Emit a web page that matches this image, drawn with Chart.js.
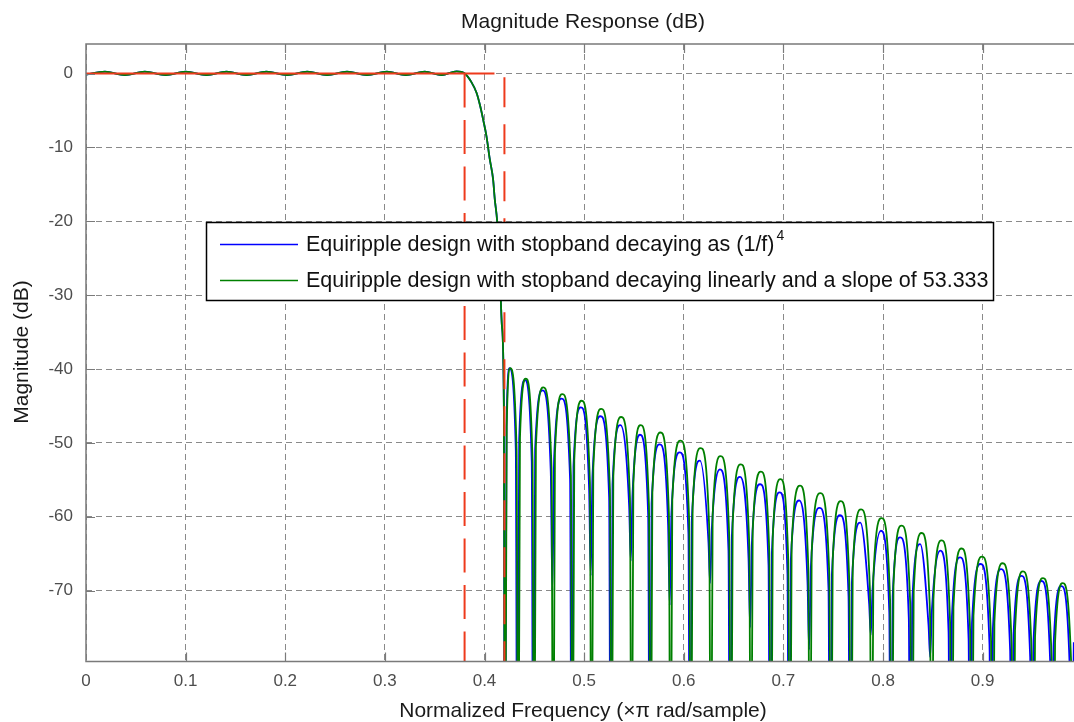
<!DOCTYPE html>
<html><head><meta charset="utf-8">
<script src="https://cdn.jsdelivr.net/npm/chart.js@4/dist/chart.umd.min.js"></script>
<style>html,body{margin:0;padding:0;background:#fff;overflow:hidden}canvas{display:block}</style>
</head><body>
<canvas id="c" width="1074" height="722" style="width:1074px;height:722px"></canvas>
<script>
const xTicks=[0,0.1,0.2,0.3,0.4,0.5,0.6,0.7,0.8,0.9];
const xTickLabels=['0','0.1','0.2','0.3','0.4','0.5','0.6','0.7','0.8','0.9'];
const yTicks=[0,-10,-20,-30,-40,-50,-60,-70];
const yTickLabels=['0','-10','-20','-30','-40','-50','-60','-70'];

// passband ripple + transition (both designs overlap here)
const passFreq=[0,0.019,0.039,0.059,0.080,0.100,0.121,0.141,0.161,0.181,0.202,0.222,0.242,0.262,0.282,0.302,0.321,0.340,0.357,0.372,0.3802];
const passDb=[-0.15,0.25,-0.2,0.25,-0.2,0.25,-0.2,0.25,-0.2,0.25,-0.2,0.25,-0.2,0.25,-0.2,0.25,-0.2,0.25,-0.2,0.3,0.0];
const transFreq=[0.3870,0.3920,0.3953,0.3986,0.4020,0.4053,0.4086,0.4103,0.4127,0.4154,0.4174,0.4194];
const transDb=[-1.2,-2.6,-4.2,-6.2,-8.5,-11.6,-14.3,-17.0,-20.0,-27.0,-34.0,-44.6];

// green: linear stopband decay, slope 53.333
const greenStopFreq=[0.4205,
0.4223,0.4258,0.4322,0.4338, 0.4356,0.4415,0.4482,0.4498, 0.4516,0.4590,0.4673,0.4689, 0.4707,0.4782,0.4867,0.4883,
0.4901,0.4975,0.5058,0.5074, 0.5092,0.5172,0.5259,0.5275, 0.5293,0.5372,0.5460,0.5476, 0.5494,0.5568,0.5651,0.5667,
0.5685,0.5767,0.5851,0.5867, 0.5885,0.5968,0.6055,0.6071, 0.6089,0.6170,0.6256,0.6272, 0.6290,0.6370,0.6457,0.6473,
0.6491,0.6573,0.6658,0.6674, 0.6692,0.6775,0.6859,0.6875, 0.6893,0.6972,0.7049,0.7065, 0.7083,0.7168,0.7250,0.7266,
0.7284,0.7372,0.7461,0.7477, 0.7495,0.7577,0.7662,0.7678, 0.7696,0.7780,0.7869,0.7885, 0.7903,0.7986,0.8071,0.8087,
0.8105,0.8187,0.8274,0.8290, 0.8308,0.8388,0.8472,0.8488, 0.8506,0.8589,0.8673,0.8689, 0.8707,0.8789,0.8874,0.8890,
0.8908,0.8995,0.9084,0.9100, 0.9118,0.9201,0.9291,0.9307, 0.9325,0.9405,0.9492,0.9508, 0.9526,0.9606,0.9693,0.9709,
0.9727,0.9805,0.9889,0.9905, 0.9930];
const greenStopDb=[-110,
-47.9,-39.9,-50.9,-110, -49.3,-41.3,-52.3,-110, -50.5,-42.5,-53.5,-110, -51.4,-43.4,-54.4,-110,
-52.3,-44.3,-55.3,-110, -53.4,-45.4,-56.4,-110, -54.5,-46.5,-57.5,-110, -55.6,-47.6,-58.6,-110,
-56.6,-48.6,-59.6,-110, -57.7,-49.7,-60.7,-110, -58.7,-50.7,-61.7,-110, -59.8,-51.8,-62.8,-110,
-60.9,-52.9,-63.9,-110, -61.9,-53.9,-64.9,-110, -62.9,-54.9,-65.9,-110, -63.8,-55.8,-66.8,-110,
-64.8,-56.8,-67.8,-110, -65.9,-57.9,-68.9,-110, -67.0,-59.0,-70.0,-110, -68.2,-60.2,-71.2,-110,
-69.2,-61.2,-72.2,-110, -70.2,-62.2,-73.2,-110, -71.2,-63.2,-74.2,-110, -72.3,-64.3,-75.3,-110,
-73.4,-65.4,-76.4,-110, -74.3,-66.3,-77.3,-110, -75.4,-67.4,-78.4,-110, -76.3,-68.3,-79.3,-110,
-77.0,-69.0,-80.0,-110, -76];

// blue: stopband decaying as (1/f)^4
const blueStopFreq=[0.4203,
0.4221,0.4252,0.4314,0.4330, 0.4348,0.4407,0.4474,0.4490, 0.4508,0.4582,0.4665,0.4681, 0.4699,0.4774,0.4859,0.4875,
0.4893,0.4967,0.5050,0.5066, 0.5084,0.5164,0.5251,0.5267, 0.5285,0.5364,0.5452,0.5468, 0.5486,0.5560,0.5643,0.5659,
0.5677,0.5759,0.5843,0.5859, 0.5877,0.5960,0.6047,0.6063, 0.6081,0.6162,0.6248,0.6264, 0.6282,0.6362,0.6449,0.6465,
0.6483,0.6565,0.6650,0.6666, 0.6684,0.6767,0.6851,0.6867, 0.6885,0.6964,0.7041,0.7057, 0.7075,0.7160,0.7242,0.7258,
0.7276,0.7364,0.7453,0.7469, 0.7487,0.7569,0.7654,0.7670, 0.7688,0.7772,0.7861,0.7877, 0.7895,0.7978,0.8063,0.8079,
0.8097,0.8172,0.8259,0.8275, 0.8293,0.8373,0.8457,0.8473, 0.8491,0.8574,0.8658,0.8674, 0.8692,0.8774,0.8859,0.8875,
0.8893,0.8980,0.9069,0.9085, 0.9103,0.9186,0.9276,0.9292, 0.9310,0.9390,0.9477,0.9493, 0.9511,0.9591,0.9678,0.9694,
0.9712,0.9790,0.9874,0.9890, 0.9915];
const blueStopDb=[-110,
-47.9,-39.9,-50.9,-110, -49.5,-41.5,-52.5,-110, -50.9,-42.9,-53.9,-70, -52.0,-44.0,-55.0,-110,
-53.2,-45.2,-56.2,-68, -54.4,-46.4,-57.4,-110, -55.6,-47.6,-58.6,-66, -56.9,-48.9,-59.9,-110,
-58.2,-50.2,-61.2,-72, -59.3,-51.3,-62.3,-110, -60.4,-52.4,-63.4,-69, -61.6,-53.6,-64.6,-110,
-62.6,-54.6,-65.6,-75, -63.6,-55.6,-66.6,-110, -64.7,-56.7,-67.7,-110, -65.8,-57.8,-68.8,-78,
-66.8,-58.8,-69.8,-110, -67.8,-59.8,-70.8,-110, -68.8,-60.8,-71.8,-76, -69.9,-61.9,-72.9,-110,
-70.8,-62.8,-73.8,-110, -71.7,-63.7,-74.7,-79, -72.6,-64.6,-75.6,-110, -73.5,-65.5,-76.5,-110,
-74.4,-66.4,-77.4,-110, -75.1,-67.1,-78.1,-110, -76.0,-68.0,-79.0,-110, -76.7,-68.7,-79.7,-110,
-77.4,-69.4,-80.4,-110, -77];

// specification mask (red)
const maskPassFreq=[0,0.41], maskPassDb=[0,0];
const maskFpassFreq=[0.38,0.38], maskFpassDb=[0,-80];
const maskFstopFreq=[0.42,0.42], maskFstopDb=[-0.5,-80];

const legendLabels=['Equiripple design with stopband decaying as (1/f)','Equiripple design with stopband decaying linearly and a slope of 53.333'];
const legendSup='4';

const pts=(fx,fy)=>fx.map((v,i)=>({x:v,y:fy[i]}));
const greenFreq=passFreq.concat(transFreq,greenStopFreq), greenDb=passDb.concat(transDb,greenStopDb);
const blueFreq=passFreq.concat(transFreq,blueStopFreq), blueDb=passDb.concat(transDb,blueStopDb);

const FONT='"Liberation Sans", Arial, sans-serif';
const deco={
  id:'deco',
  afterDatasetsDraw(chart){
    const {ctx,chartArea:a,scales:{x,y}}=chart;
    ctx.save();
    ctx.setLineDash([]);
    ctx.strokeStyle='#7a7a7a';ctx.lineWidth=1.5;
    ctx.beginPath();
    ctx.moveTo(a.right+5,a.top);ctx.lineTo(a.left,a.top);ctx.lineTo(a.left,a.bottom);ctx.lineTo(a.right+5,a.bottom);
    ctx.stroke();
    ctx.lineWidth=1.2;ctx.beginPath();
    xTicks.forEach(v=>{if(v===0)return;const p=Math.round(x.getPixelForValue(v))+0.5;ctx.moveTo(p,a.bottom);ctx.lineTo(p,a.bottom-9);ctx.moveTo(p,a.top);ctx.lineTo(p,a.top+9);});
    yTicks.forEach(v=>{const p=Math.round(y.getPixelForValue(v))+0.5;ctx.moveTo(a.left,p);ctx.lineTo(a.left+9,p);});
    ctx.stroke();
    ctx.restore();
  },
  afterDraw(chart){
    const {ctx}=chart;
    ctx.save();
    ctx.fillStyle='#1a1a1a';ctx.font='21px '+FONT;ctx.textAlign='center';ctx.textBaseline='middle';
    ctx.fillText('Magnitude Response (dB)',583,22);
    ctx.fillText('Normalized Frequency (\u00d7\u03c0 rad/sample)',583,711);
    ctx.save();ctx.translate(22,352);ctx.rotate(-Math.PI/2);ctx.fillText('Magnitude (dB)',0,0);ctx.restore();
    const bx=206.5,by=222.5,bw=787,bh=78;
    ctx.fillStyle='#fff';ctx.fillRect(bx,by,bw,bh);
    ctx.strokeStyle='#000';ctx.lineWidth=1.5;ctx.setLineDash([]);ctx.strokeRect(bx,by,bw,bh);
    const rows=[{c:'#0000ff',y:244.5},{c:'#008000',y:280.5}];
    ctx.font='21.5px '+FONT;ctx.textAlign='left';ctx.textBaseline='middle';
    rows.forEach((r,i)=>{
      ctx.strokeStyle=r.c;ctx.lineWidth=1.5;ctx.beginPath();ctx.moveTo(220,r.y);ctx.lineTo(298,r.y);ctx.stroke();
      ctx.fillStyle='#111';ctx.fillText(legendLabels[i],306,r.y+1);
    });
    const w=ctx.measureText(legendLabels[0]).width;
    ctx.font='14px '+FONT;ctx.fillText(legendSup,306+w+2,rows[0].y-8);
    ctx.restore();
  }
};

new Chart(document.getElementById('c'),{
  type:'line',
  data:{datasets:[
    {data:pts(maskPassFreq,maskPassDb),borderColor:'#ee3a1c',borderWidth:2,order:0},
    {data:pts(maskFpassFreq,maskFpassDb),borderColor:'#ee3a1c',borderWidth:2,borderDash:[34,12.5],order:0},
    {data:pts(maskFstopFreq,maskFstopDb),borderColor:'#ee3a1c',borderWidth:2,borderDash:[30,17],order:0},
    {data:pts(greenFreq,greenDb),borderColor:'#008000',borderWidth:1.8,order:1,cubicInterpolationMode:'monotone'},
    {data:pts(blueFreq,blueDb),borderColor:'#0000ff',borderWidth:1.8,order:2,cubicInterpolationMode:'monotone'}
  ]},
  options:{
    responsive:false,animation:false,devicePixelRatio:1,
    layout:{padding:{top:44,left:0,right:0,bottom:0}},
    elements:{point:{radius:0,hoverRadius:0}},
    plugins:{legend:{display:false},tooltip:{enabled:false},title:{display:false}},
    events:[],
    scales:{
      x:{type:'linear',min:0,max:0.9917,
        afterBuildTicks:s=>{s.ticks=xTicks.map(v=>({value:v}));},
        afterFit:s=>{s.height=60.5;},
        ticks:{callback:(v,i)=>xTickLabels[i],color:'#4d4d4d',font:{family:FONT,size:17},padding:10,maxRotation:0,autoSkip:false},
        grid:{color:'#8a8a8a',lineWidth:1,drawTicks:false},
        border:{display:false,dash:[6,4]}},
      y:{type:'linear',min:-79.6,max:4.0,
        afterBuildTicks:s=>{s.ticks=yTicks.map(v=>({value:v}));},
        afterFit:s=>{s.width=86;},
        ticks:{callback:(v,i)=>yTickLabels[i],color:'#4d4d4d',font:{family:FONT,size:17},padding:13,autoSkip:false},
        grid:{color:'#8a8a8a',lineWidth:1,drawTicks:false},
        border:{display:false,dash:[6,4]}}
    }
  },
  plugins:[deco]
});
</script>
</body></html>
